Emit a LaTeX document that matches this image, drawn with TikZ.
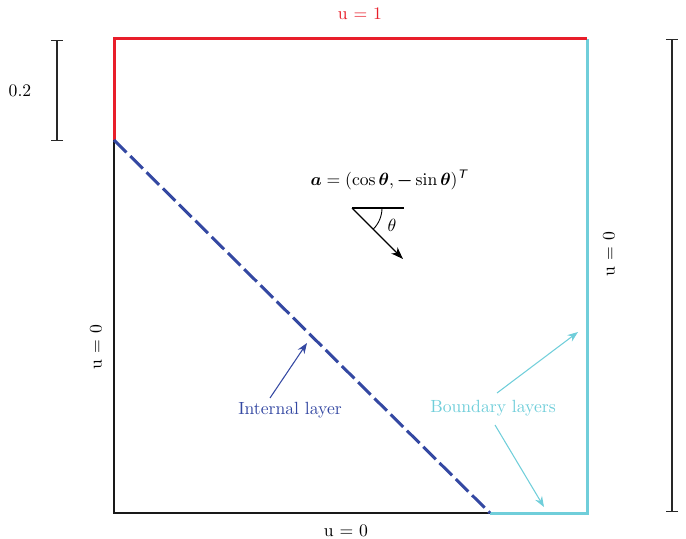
\documentclass[tikz,border=0pt]{standalone}
\usepackage{amsmath,bm}
\usetikzlibrary{arrows.meta}
\definecolor{bred}{RGB}{232,30,42}
\definecolor{bcyan}{RGB}{112,206,218}
\definecolor{bblue}{RGB}{52,72,162}
\definecolor{dimgray}{RGB}{40,40,40}
\tikzset{
  edge/.style={line width=1.7pt},
  dimline/.style={line width=0.6pt, draw=dimgray, {Bar[width=7pt]}-{Bar[width=7pt]}},
  lbl/.style={inner sep=1pt, font=\normalsize},
  callout/.style={line width=0.6pt, -{Stealth[length=6pt,width=4.5pt]}}
}
\begin{document}
\begin{tikzpicture}[x=0.567pt,y=-0.567pt]
\useasboundingbox (0,0) rectangle (686,539);
% corners
\coordinate (TL) at (114,39);
\coordinate (TR) at (587,39);
\coordinate (BR) at (587,513);
\coordinate (BL) at (114,513);
\coordinate (L2) at (114,140);
\coordinate (B2) at (490,513);
% boundary
\draw[line width=1.3pt, black!90, line cap=rect] (L2) -- (BL) -- (B2);
\draw[edge, bcyan, line join=miter] (B2) -- (BR) -- (TR);
\draw[edge, bred, line join=miter] (L2) -- (TL) -- (TR);
% internal layer
\draw[line width=1.7pt, bblue, dash pattern=on 10pt off 3pt] (L2) -- (B2);
% dimension bars
\coordinate (d1a) at (57,40); \coordinate (d1b) at (57,141);
\draw[dimline] (d1a) -- (d1b);
\node[lbl] (h02) at (20,91) {0.2};
\coordinate (d2a) at (672,39); \coordinate (d2b) at (672,512);
\draw[dimline] (d2a) -- (d2b);
% boundary labels
\node[lbl, text=bred] (utop) at (360,14) {u $=$ 1};
\node[lbl] (ubot) at (346,531) {u $=$ 0};
\node[lbl, rotate=90] (uleft) at (96,347) {u $=$ 0};
\node[lbl, rotate=90] (uright) at (609,254) {u $=$ 0};
% advection direction
\node[lbl] (formula) at (389,180) {$\bm{a}=(\cos\bm{\theta},\bm{-}\sin\bm{\theta})^{\textsf{\itshape T}}$};
\coordinate (O) at (352,208);
\coordinate (H) at (404,208);
\coordinate (A) at (403,259);
\draw[line width=0.7pt] (O) -- (H);
\draw[line width=0.7pt, -{Stealth[length=7pt,width=5pt]}] (O) -- (A);
\draw[line width=0.5pt] (382,208) arc[start angle=0, end angle=45, radius=30];
\node[lbl] (th) at (392,225) {$\theta$};
% callouts
\node[lbl, text=bblue] (intl) at (290,410) {Internal layer};
\coordinate (intp) at (307,343);
\draw[callout, bblue] (270,398) -- (intp);
\node[lbl, text=bcyan] (bl) at (493,408) {Boundary layers};
\coordinate (bp1) at (578,332);
\coordinate (bp2) at (544,507);
\draw[callout, bcyan] (497,393) -- (bp1);
\draw[callout, bcyan] (495,425) -- (bp2);
\end{tikzpicture}
\end{document}
